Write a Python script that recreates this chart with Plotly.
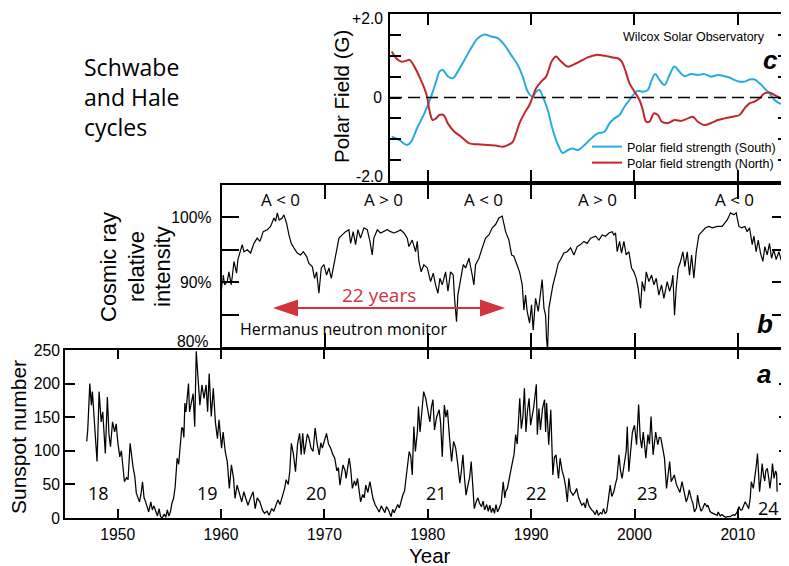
import plotly.graph_objects as go

# ---------------- data ----------------
ssn_year = [1947.0,1947.1,1947.3,1947.45,1947.55,1947.8,1948.0,1948.2,1948.4,1948.55,1948.8,1949.0,1949.15,1949.3,1949.5,1949.7,1949.85,
1950.0,1950.2,1950.35,1950.5,1950.65,1950.85,1951.0,1951.2,1951.35,1951.5,1951.65,1951.8,1952.1,1952.25,1952.4,1952.55,1952.7,1952.85,
1953.0,1953.2,1953.35,1953.5,1953.7,1953.85,1954.0,1954.15,1954.3,1954.5,1954.65,1954.8,1954.95,1955.1,1955.25,1955.4,1955.55,1955.75,1955.9,
1956.1,1956.2,1956.3,1956.4,1956.5,1956.6,1956.85,1956.95,1957.1,1957.3,1957.45,1957.6,1957.75,1957.95,1958.15,1958.35,1958.55,1958.7,1958.85,
1959.05,1959.25,1959.45,1959.65,1959.8,1960.05,1960.2,1960.4,1960.6,1960.8,1961.0,1961.2,1961.35,1961.55,1961.75,1962.0,1962.2,1962.35,1962.6,1962.8,
1963.1,1963.3,1963.5,1963.75,1964.0,1964.2,1964.45,1964.65,1964.9,1965.1,1965.3,1965.5,1965.7,1966.0,1966.15,1966.3,1966.5,1966.65,1966.8,
1967.0,1967.2,1967.4,1967.6,1967.75,1967.9,1968.05,1968.2,1968.35,1968.5,1968.7,1968.9,1969.1,1969.3,1969.5,1969.65,1969.8,
1970.0,1970.2,1970.4,1970.6,1970.8,1971.0,1971.2,1971.35,1971.5,1971.65,1971.8,1972.0,1972.1,1972.25,1972.4,1972.55,1972.7,1972.9,
1973.05,1973.2,1973.35,1973.5,1973.7,1973.85,1974.0,1974.2,1974.4,1974.55,1974.7,1974.9,1975.1,1975.3,1975.5,1975.7,1975.85,
1976.0,1976.2,1976.45,1976.6,1976.75,1976.9,1977.1,1977.25,1977.4,1977.6,1977.75,1977.9,1978.05,1978.2,1978.35,1978.5,1978.65,1978.8,
1979.0,1979.1,1979.25,1979.4,1979.6,1979.8,1980.0,1980.2,1980.35,1980.5,1980.65,1980.85,1981.1,1981.25,1981.4,1981.6,1981.75,1981.9,
1982.1,1982.3,1982.5,1982.7,1982.9,1983.1,1983.25,1983.4,1983.55,1983.7,1983.9,1984.05,1984.2,1984.35,1984.5,1984.7,1984.85,
1985.0,1985.2,1985.35,1985.5,1985.7,1985.85,1986.0,1986.15,1986.3,1986.45,1986.6,1986.75,1986.9,1987.1,1987.3,1987.45,1987.55,1987.7,1987.9,
1988.05,1988.2,1988.35,1988.5,1988.65,1988.8,1988.9,1989.05,1989.2,1989.35,1989.5,1989.65,1989.8,1989.95,1990.1,1990.25,1990.5,1990.6,1990.75,1990.9,
1991.1,1991.3,1991.4,1991.5,1991.7,1991.9,1992.1,1992.25,1992.4,1992.55,1992.65,1992.8,1993.0,1993.2,1993.35,1993.5,1993.65,1993.8,
1994.05,1994.25,1994.4,1994.6,1994.75,1994.9,1995.1,1995.25,1995.4,1995.6,1995.85,1996.0,1996.2,1996.35,1996.5,1996.7,1996.85,
1997.0,1997.15,1997.3,1997.45,1997.65,1997.8,1998.0,1998.15,1998.3,1998.5,1998.65,1998.8,1999.05,1999.2,1999.3,1999.45,1999.6,1999.8,
2000.0,2000.2,2000.4,2000.55,2000.7,2000.85,2001.1,2001.3,2001.45,2001.6,2001.8,2002.05,2002.25,2002.4,2002.55,2002.75,2002.9,
2003.1,2003.25,2003.4,2003.55,2003.7,2003.85,2004.05,2004.2,2004.4,2004.6,2004.8,2005.0,2005.15,2005.3,2005.5,2005.65,2005.8,
2006.0,2006.1,2006.25,2006.45,2006.6,2006.8,2007.0,2007.1,2007.3,2007.45,2007.6,2007.8,2008.0,2008.1,2008.3,2008.45,2008.6,2008.8,
2009.0,2009.25,2009.45,2009.6,2009.7,2009.9,2010.1,2010.25,2010.4,2010.55,2010.7,2010.85,2011.05,2011.2,2011.3,2011.5,2011.65,2011.8,2011.9,
2012.1,2012.25,2012.35,2012.5,2012.6,2012.7,2012.85,2013.0,2013.1,2013.25,2013.35,2013.5,2013.65,2013.75,2013.8]
ssn_value = [114,131,200,168,188,124,84,188,143,158,96,180,125,106,143,128,140,
114,91,100,74,54,60,57,111,90,74,62,37,24,35,54,30,24,15,
9,24,12,18,9,3,14,2,0,6,1,12,3,9,22,29,45,89,80,
119,135,133,120,171,158,200,158,170,185,136,248,213,168,198,178,198,158,215,
151,193,143,118,146,104,128,99,84,44,79,60,29,49,38,24,39,30,19,28,
39,14,30,24,12,7,10,4,14,10,19,27,20,34,44,57,50,70,111,
95,69,110,126,94,126,95,109,125,119,104,99,134,110,94,112,104,
115,126,110,104,95,89,70,75,49,62,79,70,59,75,89,72,44,55,
48,59,40,24,35,30,49,38,54,40,29,20,15,9,18,12,8,
17,12,2,13,8,14,20,15,24,35,40,59,72,99,92,64,136,99,
130,166,128,150,188,178,160,143,165,176,131,150,161,140,91,168,150,161,
120,84,114,104,80,52,70,94,60,34,50,60,84,55,14,25,30,
22,17,25,12,20,10,19,8,15,7,20,9,14,22,54,30,40,44,60,
70,84,95,124,110,150,178,133,150,193,128,160,178,138,150,165,199,124,163,131,
163,176,128,171,109,161,64,90,94,75,59,89,70,59,45,24,59,40,
34,38,44,30,25,19,22,15,29,18,12,10,5,12,4,8,6,
14,7,9,25,49,32,39,50,59,94,70,59,84,100,136,69,95,128,
138,109,169,120,104,128,89,124,110,151,94,128,109,120,119,100,89,
44,70,84,54,60,64,50,44,38,54,40,24,30,42,28,22,9,
15,34,20,10,14,22,17,19,10,8,7,6,4,9,3,5,3,1,
2,2,4,5,4,8,17,12,12,17,24,20,14,30,54,44,60,80,96,
39,62,81,62,55,70,74,58,44,62,81,59,70,66,39]

cr_year = [1960.0,1960.19,1960.32,1960.58,1960.74,1960.97,1961.23,1961.48,1961.61,1961.81,1962.03,1962.19,1962.52,1962.84,
1963.16,1963.48,1963.74,1964.06,1964.45,1964.77,1965.1,1965.26,1965.42,1965.61,1965.9,1966.06,1966.32,1966.55,1966.77,
1967.03,1967.35,1967.68,1967.94,1968.26,1968.48,1968.81,1969.03,1969.23,1969.45,1969.68,1969.94,1970.19,1970.42,1970.65,1970.9,
1971.16,1971.39,1971.71,1972.03,1972.35,1972.52,1972.77,1973.0,1973.23,1973.48,1973.81,1974.13,1974.39,1974.61,1974.77,
1975.1,1975.42,1975.74,1976.06,1976.39,1976.71,1977.03,1977.35,1977.68,1978.0,1978.16,1978.48,1978.81,1978.97,
1979.13,1979.35,1979.61,1979.94,1980.26,1980.52,1980.74,1980.97,1981.16,1981.39,1981.71,1981.94,1982.19,1982.45,1982.58,1982.77,1982.9,
1983.16,1983.42,1983.65,1983.97,1984.29,1984.45,1984.61,1984.94,1985.26,1985.58,1985.9,1986.23,1986.55,1986.87,1987.19,1987.52,
1987.84,1988.1,1988.32,1988.65,1988.87,1989.13,1989.29,1989.45,1989.61,1989.84,1990.03,1990.19,1990.42,1990.68,1990.9,
1991.06,1991.23,1991.39,1991.48,1991.58,1991.71,1991.87,1992.1,1992.35,1992.61,1992.84,1993.16,1993.48,1993.81,
1994.13,1994.45,1994.77,1995.1,1995.42,1995.74,1996.23,1996.55,1996.87,1997.19,1997.52,1997.84,1998.0,1998.16,1998.32,1998.55,1998.74,1998.97,
1999.19,1999.45,1999.71,1999.94,2000.16,2000.35,2000.58,2000.74,2000.97,2001.13,2001.39,2001.65,2001.87,2002.1,2002.35,2002.61,2002.84,
2003.16,2003.39,2003.58,2003.71,2003.87,2004.03,2004.23,2004.45,2004.68,2004.87,2005.1,2005.32,2005.52,2005.74,2005.97,
2006.23,2006.55,2006.87,2007.19,2007.52,2008.0,2008.48,2008.97,2009.29,2009.61,2009.84,2010.1,2010.35,2010.68,2010.9,
2011.13,2011.39,2011.55,2011.77,2011.97,2012.19,2012.42,2012.61,2012.84,2013.06,2013.26,2013.48,2013.71,2013.97,2014.23,2014.45,2014.68,2014.87]
cr_value = [88.6,91.1,89.6,90.1,91.6,89.6,93.2,91.4,93.5,94.7,95.8,94.7,95.0,94.5,
96.0,96.8,96.3,97.8,98.1,98.6,99.9,99.4,100.7,99.6,99.9,100.4,99.1,97.3,96.0,
95.3,94.5,94.2,94.7,94.0,92.9,92.4,90.6,91.6,88.3,92.2,92.7,91.1,92.2,90.6,92.7,
94.7,96.8,97.3,97.8,98.1,96.0,97.8,95.8,98.1,96.8,98.4,98.1,96.3,94.2,96.8,
98.1,97.6,97.8,98.1,97.8,97.6,97.8,98.1,97.6,96.8,95.5,96.5,94.7,96.3,
93.2,91.6,92.7,92.2,90.1,91.4,89.6,88.3,90.6,89.6,91.6,88.6,91.6,91.1,87.5,83.9,88.0,
90.6,92.7,92.2,93.7,91.1,89.6,92.7,93.7,95.3,96.8,97.3,98.4,98.9,99.9,100.2,97.8,
96.5,94.2,94.0,92.7,91.6,89.6,85.7,88.0,85.5,83.7,86.5,82.6,87.5,85.5,88.6,
90.4,86.0,84.9,81.3,79.6,86.0,87.5,89.6,91.1,92.9,93.5,94.5,94.7,95.3,
94.2,95.5,95.8,96.3,96.0,96.8,97.1,96.5,97.3,97.1,97.6,97.8,97.3,97.6,94.7,96.3,94.5,96.3,
94.2,94.7,92.2,91.6,90.6,89.1,86.0,90.1,88.6,91.6,90.1,91.1,89.6,90.6,88.0,89.6,87.5,
90.1,88.6,89.6,91.1,84.9,89.1,92.2,93.2,94.7,92.4,94.7,91.1,94.2,90.6,94.7,
97.3,97.8,98.4,98.6,98.4,98.6,98.6,99.6,100.7,100.4,100.7,98.6,98.4,98.6,97.8,
98.4,95.8,97.1,94.7,96.5,94.5,93.2,95.5,94.2,96.0,93.7,95.0,93.5,94.7,93.2,94.2,94.5,93.8]

south_year = [1976.52,1977.26,1978.0,1978.39,1979.03,1979.68,1980.32,1980.81,1981.13,1981.45,1981.94,1982.42,1982.9,1983.55,1984.19,
1984.84,1985.48,1986.13,1986.77,1987.42,1988.06,1988.71,1989.19,1989.68,1990.16,1990.48,1990.81,1991.13,1991.61,1992.1,1992.58,
1993.06,1993.55,1994.03,1994.52,1995.16,1995.81,1996.45,1997.1,1997.58,1998.06,1998.55,1999.03,1999.52,2000.0,2000.32,2000.81,
2001.29,2001.61,2002.0,2002.42,2002.9,2003.39,2003.87,2004.35,2004.84,2005.48,2006.13,2006.77,2007.42,2008.06,2008.71,2009.19,
2009.68,2010.16,2010.65,2011.13,2011.61,2012.1,2012.58,2013.06,2013.55,2014.03,2014.35]
south_field = [-0.94,-1.02,-1.14,-1.06,-0.70,-0.38,0.02,0.38,0.62,0.66,0.51,0.46,0.62,0.90,1.18,
1.42,1.51,1.46,1.42,1.26,1.02,0.78,0.50,0.14,0.02,0.14,0.18,0.02,-0.30,-0.78,-1.12,
-1.33,-1.26,-1.22,-1.26,-1.14,-0.98,-0.86,-0.82,-0.62,-0.50,-0.42,-0.22,-0.06,0.10,0.16,0.14,
0.18,0.38,0.56,0.42,0.30,0.54,0.74,0.62,0.51,0.56,0.54,0.56,0.50,0.54,0.51,0.48,
0.42,0.38,0.38,0.43,0.43,0.34,0.22,0.10,-0.06,-0.14,-0.16]

north_year = [1976.52,1976.94,1977.42,1977.9,1978.23,1978.71,1979.19,1979.61,1979.94,1980.16,1980.48,1980.81,1981.13,1981.55,1981.94,
1982.58,1983.23,1984.03,1984.84,1985.81,1986.77,1987.26,1987.74,1988.23,1988.55,1988.87,1989.35,1989.84,1990.16,1990.48,1990.97,
1991.45,1991.7,1991.94,1992.26,1992.42,1992.9,1993.55,1994.19,1994.84,1995.48,1996.29,1997.1,1997.9,1998.39,1998.77,1999.1,1999.52,
2000.0,2000.48,2000.81,2001.13,2001.45,2001.87,2002.26,2002.65,2003.23,2003.87,2004.52,2005.16,2005.65,2006.13,2006.77,2007.42,
2008.06,2008.71,2009.52,2010.16,2010.65,2011.13,2011.61,2012.1,2012.58,2013.06,2013.55,2014.03,2014.35]
north_field = [1.10,0.94,0.86,0.88,0.90,0.74,0.50,0.26,0.02,-0.30,-0.54,-0.50,-0.42,-0.42,-0.62,
-0.82,-0.94,-1.10,-1.12,-1.14,-1.16,-1.18,-1.14,-1.06,-0.86,-0.62,-0.38,-0.18,0.02,0.22,0.38,
0.50,0.66,0.84,0.96,0.98,0.86,0.74,0.80,0.88,0.96,1.02,1.00,0.96,0.94,0.86,0.66,0.34,
0.14,-0.06,-0.30,-0.58,-0.58,-0.38,-0.42,-0.58,-0.61,-0.54,-0.56,-0.50,-0.46,-0.58,-0.66,-0.61,
-0.54,-0.50,-0.46,-0.42,-0.26,-0.14,-0.10,-0.02,0.10,0.12,0.06,0.00,-0.04]

decade_ticks = [1950, 1960, 1970, 1980, 1990, 2000, 2010]
ssn_ticks = [0, 50, 100, 150, 200, 250]
cr_ticks = [80, 85, 90, 95, 100]
cr_ticktext = ["", "", "90%", "", "100%"]
cr_bottom_label = "80%"
pf_ticks = [-2.0, -1.5, -1.0, -0.5, 0.0, 0.5, 1.0, 1.5, 2.0]
pf_ticktext = ["", "", "", "", "0", "", "", "", ""]
pf_top_label = "+2.0"
pf_bottom_label = "-2.0"

cycle_labels = ["18", "19", "20", "21", "22", "23", "24"]
polarity_labels = ["A < 0", "A > 0", "A < 0", "A > 0", "A < 0"]

# ---------------- layout helpers ----------------
# the page body has an 8px margin, so the figure starts at (8, 8) in the window
OFF = 8
W, H = 789 - OFF, 566 - OFF
def fx(p):
    return (p - OFF) / W
def fy(p):
    return 1 - (p - OFF) / H

RED = "#d0343c"
BLUE = "#29abe2"
DRED = "#c1272d"
ARIAL = "Liberation Sans, Arial"
TICKF = dict(family=ARIAL, size=15.7, color="black")
MYR = "Open Sans, Noto Sans"

fig = go.Figure()

fig.add_trace(go.Scatter(x=ssn_year, y=ssn_value, mode="lines", line=dict(color="black", width=1.25),
                         xaxis="x", yaxis="y", showlegend=False))
fig.add_trace(go.Scatter(x=cr_year, y=cr_value, mode="lines", line=dict(color="black", width=1.2),
                         xaxis="x2", yaxis="y2", showlegend=False))
fig.add_trace(go.Scatter(x=south_year, y=south_field, mode="lines", line=dict(color=BLUE, width=2, shape="spline"),
                         xaxis="x3", yaxis="y3", name="Polar field strength (South)", legend="legend"))
fig.add_trace(go.Scatter(x=north_year, y=north_field, mode="lines", line=dict(color=DRED, width=2, shape="spline"),
                         xaxis="x3", yaxis="y3", name="Polar field strength (North)", legend="legend2"))

def axis(**kw):
    base = dict(showline=True, linecolor="black", linewidth=1.6, mirror="ticks", ticks="inside",
                tickcolor="black", tickwidth=1.5, showgrid=False, zeroline=False, tickfont=TICKF,
                automargin=False, fixedrange=True, ticklabeloverflow="allow")
    base.update(kw)
    return base

legfont = dict(family=ARIAL, size=12.5, color="black")
fig.update_layout(
    width=W, height=H, margin=dict(l=0, r=0, t=0, b=0),
    paper_bgcolor="white", plot_bgcolor="rgba(0,0,0,0)",
    xaxis=axis(domain=[fx(65), fx(788.5)], range=[1944.9, 2014.9], tickvals=decade_ticks, ticklen=9,
               anchor="y", ticklabelstandoff=1),
    yaxis=axis(domain=[fy(518), fy(350)], range=[0, 250], tickvals=ssn_ticks, ticklen=10, anchor="x"),
    xaxis2=axis(domain=[fx(222.3), fx(788.5)], range=[1960.1, 2014.9], tickvals=decade_ticks, ticklen=14,
                showticklabels=False, anchor="y2"),
    yaxis2=axis(domain=[fy(347), fy(185)], range=[80, 105], tickvals=cr_ticks, ticktext=cr_ticktext,
                ticklen=17, anchor="x2", ticklabelstandoff=6),
    xaxis3=axis(domain=[fx(390), fx(788.5)], range=[1976.35, 2014.9], tickvals=decade_ticks, ticklen=11,
                showticklabels=False, anchor="y3"),
    yaxis3=axis(domain=[fy(181), fy(14)], range=[-2, 2], tickvals=pf_ticks, ticktext=pf_ticktext,
                ticklen=11, anchor="x3", ticklabelstandoff=3),
    legend=dict(x=fx(587), y=fy(147), xanchor="left", yanchor="middle", bgcolor="rgba(0,0,0,0)",
                font=legfont, itemwidth=30),
    legend2=dict(x=fx(587), y=fy(163), xanchor="left", yanchor="middle", bgcolor="rgba(0,0,0,0)",
                 font=legfont, itemwidth=30),
)

# dashed zero line in panel c
fig.add_shape(type="line", xref="x3 domain", yref="y3", x0=0, x1=1, y0=0, y1=0,
              line=dict(color="black", width=1.6, dash="12px,6px"))

# 22-year arrow (decorative)
fig.add_shape(type="line", xref="paper", yref="paper", x0=fx(296), x1=fx(482), y0=fy(308), y1=fy(308),
              line=dict(color=RED, width=2))
fig.add_shape(type="path", xref="paper", yref="paper",
              path=f"M {fx(273)} {fy(308)} L {fx(298)} {fy(299.5)} L {fx(298)} {fy(316.5)} Z",
              fillcolor=RED, line=dict(color=RED, width=0))
fig.add_shape(type="path", xref="paper", yref="paper",
              path=f"M {fx(505)} {fy(308)} L {fx(480)} {fy(299.5)} L {fx(480)} {fy(316.5)} Z",
              fillcolor=RED, line=dict(color=RED, width=0))

ann = []
def text(x, y, s, size, family=MYR, color="black", angle=0, xanchor="center", yanchor="middle",
         bold=False, italic=False):
    if bold:
        s = f"<b>{s}</b>"
    if italic:
        s = f"<i>{s}</i>"
    ann.append(dict(x=fx(x), y=fy(y), xref="paper", yref="paper", text=s, showarrow=False,
                    xanchor=xanchor, yanchor=yanchor, textangle=angle,
                    font=dict(family=family, size=size, color=color)))

# title block
text(82, 67, "Schwabe", 23, xanchor="left")
text(82, 97, "and Hale", 23, xanchor="left")
text(82, 127, "cycles", 23, xanchor="left")

# axis titles
text(18, 437, "Sunspot number", 21, family=ARIAL, angle=-90)
text(430, 555, "Year", 20.5, family=ARIAL)
text(108, 267, "Cosmic ray", 22, family=ARIAL, angle=-90)
text(136, 267, "relative", 22, family=ARIAL, angle=-90)
text(162, 267, "intensity", 22, family=ARIAL, angle=-90)
text(341, 97, "Polar Field (G)", 20.5, family=ARIAL, angle=-90)

# end tick labels placed as in the reference (kept clear of neighbouring frames)
text(210, 341, cr_bottom_label, 15.7, family=ARIAL, xanchor="right")
text(385, 8, pf_top_label, 15.7, family=ARIAL, xanchor="right", yanchor="top")
text(385, 176.5, pf_bottom_label, 15.7, family=ARIAL, xanchor="right")

# panel letters
text(764, 374, "a", 26, family=ARIAL, bold=True, italic=True)
text(765, 324, "b", 26, family=ARIAL, bold=True, italic=True)
text(770, 60, "c", 26, family=ARIAL, bold=True, italic=True)

# cycle numbers
cyc_pos = [(98, 493), (207, 493), (316, 493), (436, 493), (536, 493), (647, 493), (768, 508)]
for lab, (x, y) in zip(cycle_labels, cyc_pos):
    text(x, y, lab, 18)

# polarity labels
pol_x = [280, 383, 484, 597, 734]
for lab, x in zip(polarity_labels, pol_x):
    text(x, 199, lab, 17)

text(238, 329, "Hermanus neutron monitor", 16, xanchor="left")
text(379, 295, "22 years", 19, color=RED)
text(694, 37, "Wilcox Solar Observatory", 12.5, family=ARIAL)

fig.update_layout(annotations=ann)
fig.write_html("out.html")
